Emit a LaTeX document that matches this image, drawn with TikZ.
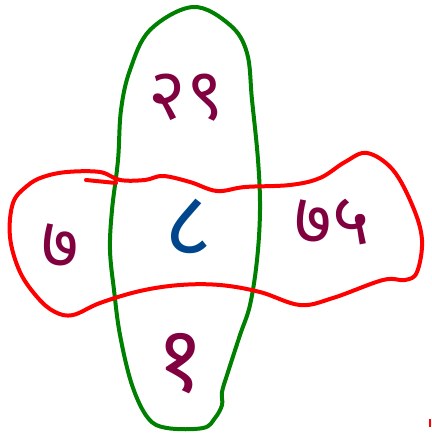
\documentclass[tikz,border=0pt]{standalone}
\usepackage{fontspec}
\newfontfamily\devfont[Script=Devanagari]{Noto Sans}
\usepackage{tikz}
\definecolor{setgreen}{HTML}{008000}
\definecolor{setred}{HTML}{FF0000}
\definecolor{numplum}{HTML}{800040}
\definecolor{numblue}{HTML}{00468C}
\tikzset{
  setline/.style={line width=4pt,line cap=round,line join=round,draw=#1},
  setline/.default={setgreen},
  count/.style={font=\devfont\bfseries\fontsize{72}{74}\selectfont,text=#1,inner sep=0pt},
  count/.default={numplum},
  bigcount/.style={font=\devfont\bfseries\fontsize{92}{94}\selectfont},
}

\begin{document}
\begin{tikzpicture}[x=1pt,y=-1pt]
  \useasboundingbox (0,0) rectangle (431,435);
  % vertical set
  \draw[setline=setgreen] plot[smooth cycle,tension=0.6] coordinates {
    (193,7) (230,25) (247,53) (252,100) (258,160) (260,210) (257,260)
    (250,305) (240,335) (228,372) (222,392) (222,405) (215,418) (203,428)
    (167,428) (148,418) (132,385) (120,335) (114,290) (110,250) (112,210)
    (118,160) (121,110) (130,70) (150,30)};
  % horizontal set
  \draw[setline=setred] plot[smooth cycle,tension=0.6] coordinates {
    (67,172) (100,172) (120,180) (145,180) (163,176) (190,182) (217,191)
    (245,187) (290,185) (320,178) (345,162) (367,153) (393,170) (413,207)
    (422,240) (417,272) (405,280) (383,280) (333,298) (300,305) (260,292)
    (220,285) (180,285) (140,291) (100,303) (73,315) (55,312) (38,298)
    (20,272) (10,237) (13,203) (27,186) (43,177)};
  \draw[setline=setred] (86,180) -- (116,183);
  \draw[setred,line width=2pt] (430,419) -- (430,427);
  % region counts
  \node[count] (top) at (186,98) {२९};
  \node[count] (left) at (60,246) {७};
  \node[count=numblue,bigcount] (both) at (188,228) {८};
  \node[count] (right) at (332,222) {७५};
  \node[count,bigcount] (bottom) at (180,364) {१};
\end{tikzpicture}
\end{document}
